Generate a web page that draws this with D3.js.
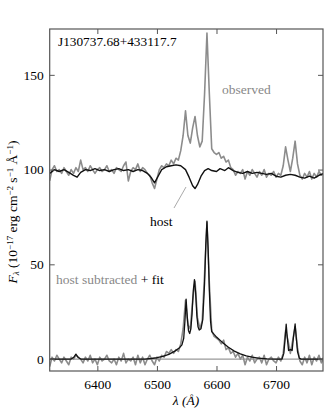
<!DOCTYPE html>
<html lang="en">
<head>
<meta charset="UTF-8">
<title>J130737.68+433117.7 spectrum</title>
<script src="https://d3js.org/d3.v7.min.js"></script>
<style>
    body { margin: 0; background: #fff; }
</style>
</head>
<body>
<div id="chart"></div>
<script>
// wavelength grid of the two noisy spectra (Angstrom), step 4
const waveStart = 6320, waveStep = 4;

// observed spectrum, 6320 .. 6780
const observedFlux = [
    94, 100, 102, 99, 100, 98, 101, 99, 97, 100,
    98, 101, 99, 105, 100, 101, 99, 102, 100, 98,
    100, 101, 99, 100, 102, 99, 100, 98, 101, 100,
    99, 102, 104, 94, 99, 101, 100, 103, 99, 101,
    100, 98, 97, 93, 90, 95, 100, 102, 101, 103,
    102, 105, 103, 106, 105, 110, 118, 131, 118, 114,
    122, 128, 118, 112, 115, 140, 172, 140, 111, 109,
    108, 109, 106, 107, 104, 105, 101, 100, 97, 99,
    98, 100, 95, 99, 97, 100, 98, 96, 99, 97,
    100, 96, 98, 97, 99, 96, 98, 97, 102, 112,
    105, 99, 106, 115, 103, 97, 95, 98, 96, 99,
    95, 98, 96, 99, 97, 98
];

// host subtracted spectrum, same grid
const residualFlux = [
    -4, 1, -1, 2, 0, -2, 1, -1, -3, 1,
    0, 2, 1, 0, -2, 1, -1, 2, -2, 0,
    -3, 1, -1, 0, 2, -1, -2, 0, -3, 1,
    -1, 3, -2, 0, -1, 1, -3, 2, -2, 1,
    -3, 0, 2, -1, -3, 1, -1, 2, 1, 4,
    3, 5, 3, 5, 4, 8, 16, 31, 18, 16,
    31, 41, 22, 16, 20, 45, 72, 40, 15, 12,
    11, 10, 8, 10, 5, 6, 3, 4, 1, 3,
    0, 2, -3, 1, -1, 2, -2, 0, 1, -2,
    2, -3, 0, 1, -1, -2, 1, -1, 3, 15,
    10, 3, 10, 17, 6, -1, -3, 1, -2, 2,
    -3, 1, -1, 2, -2, 1
];

// host galaxy model [wavelength, flux]
const hostModel = [
    [6320, 98], [6328, 100], [6336, 99], [6344, 100], [6352, 98.5], [6360, 97],
    [6366, 96], [6372, 98.5], [6380, 100], [6388, 99.5], [6396, 100.5], [6404, 99.5],
    [6412, 100], [6420, 99], [6428, 100], [6436, 100.5], [6444, 99.5], [6452, 100],
    [6460, 99], [6468, 100], [6476, 99.5], [6484, 98], [6490, 96], [6496, 93],
    [6502, 96.5], [6508, 100], [6516, 101.5], [6524, 102], [6532, 102.5], [6540, 102],
    [6548, 100], [6554, 96], [6560, 91.5], [6564, 90], [6568, 92], [6574, 96.5],
    [6580, 99.5], [6586, 100.5], [6592, 99.5], [6600, 99], [6606, 100.5], [6614, 99.5],
    [6620, 101], [6628, 99.5], [6636, 98.5], [6644, 98], [6652, 99], [6660, 98],
    [6668, 98.5], [6676, 98], [6684, 97.5], [6692, 98], [6700, 96.5], [6708, 96],
    [6716, 97], [6724, 97.5], [6732, 97], [6740, 96], [6748, 95.5], [6756, 96.5],
    [6764, 95.5], [6772, 97], [6780, 98]
];

// line fit to the host subtracted spectrum [wavelength, flux]
const lineFit = [
    [6320, 0], [6356, 0], [6360, 0.8], [6364, 2.6], [6368, 0.8], [6372, 0],
    [6480, 0], [6490, 0.3], [6500, 0.7], [6510, 1.4], [6520, 2.5], [6530, 4.2],
    [6538, 6], [6542, 7.5], [6545, 11], [6547, 20], [6549, 31.6], [6551, 22],
    [6553, 15], [6555, 13.5], [6557, 16], [6559, 24], [6561, 36], [6563, 41.9],
    [6565, 35], [6567, 23], [6569, 17], [6571, 15.3], [6574, 16], [6577, 21],
    [6580, 40], [6582, 60], [6584, 72.8], [6586, 58], [6588, 36], [6590, 20],
    [6592, 14.5], [6596, 13], [6600, 11.6], [6610, 8.8], [6620, 6.2], [6630, 4.2],
    [6640, 2.7], [6650, 1.7], [6660, 1.0], [6670, 0.5], [6685, 0.1], [6700, 0],
    [6710, 0], [6713, 3], [6715, 10], [6717, 18.4], [6719, 11], [6721, 4.5],
    [6724, 5], [6727, 4.5], [6729, 11], [6732, 18.5], [6734, 11], [6736, 4],
    [6739, 0.5], [6742, 0], [6780, 0]
];

const xTicks = [6400, 6500, 6600, 6700];
const yTicks = [0, 50, 100, 150];

const width = 329, height = 413;
const plotLeft = 49.7, plotRight = 323, plotTop = 29, plotBottom = 371;
const serif = "'Liberation Serif', 'DejaVu Serif', serif";

const svg = d3.select("#chart").append("svg")
    .attr("width", width)
    .attr("height", height)
    .attr("font-family", serif);

const x = d3.scaleLinear().domain([6320, 6778.8]).range([plotLeft, plotRight]);
const y = d3.scaleLinear().domain([-6.3, 174.2]).range([plotBottom, plotTop]);

svg.append("clipPath").attr("id", "plot")
    .append("rect")
    .attr("x", plotLeft).attr("y", plotTop)
    .attr("width", plotRight - plotLeft).attr("height", plotBottom - plotTop);

const gridSeries = flux => flux.map((f, i) => [waveStart + i * waveStep, f]);

const line = d3.line()
    .x(d => x(d[0]))
    .y(d => y(d[1]));

const plot = svg.append("g").attr("clip-path", "url(#plot)");

// zero line
plot.append("line")
    .attr("x1", plotLeft).attr("x2", plotRight)
    .attr("y1", y(0)).attr("y2", y(0))
    .attr("stroke", "#999").attr("stroke-width", 1.3);

plot.append("path")
    .datum(gridSeries(observedFlux))
    .attr("d", line)
    .attr("fill", "none")
    .attr("stroke", "#8c8c8c")
    .attr("stroke-width", 1.6)
    .attr("stroke-linejoin", "round");

plot.append("path")
    .datum(hostModel)
    .attr("d", line)
    .attr("fill", "none")
    .attr("stroke", "#111")
    .attr("stroke-width", 1.4)
    .attr("stroke-linejoin", "round");

plot.append("path")
    .datum(gridSeries(residualFlux))
    .attr("d", line)
    .attr("fill", "none")
    .attr("stroke", "#8c8c8c")
    .attr("stroke-width", 1.6)
    .attr("stroke-linejoin", "round");

plot.append("path")
    .datum(lineFit)
    .attr("d", line)
    .attr("fill", "none")
    .attr("stroke", "#111")
    .attr("stroke-width", 1.3)
    .attr("stroke-linejoin", "round");

// axes, ticks pointing inward on all four sides
const frameColor = "#555";

function styleAxis(g) {
    g.attr("font-family", serif).attr("font-size", 13.5);
    g.select(".domain").remove();
    g.selectAll(".tick line").attr("stroke", frameColor).attr("stroke-width", 1);
    g.selectAll(".tick text").attr("fill", "#000");
}

svg.append("g")
    .attr("transform", `translate(0,${plotBottom})`)
    .call(d3.axisBottom(x).tickValues(xTicks).tickSize(-5).tickPadding(8).tickFormat(d3.format("d")))
    .call(styleAxis);

svg.append("g")
    .attr("transform", `translate(0,${plotTop})`)
    .call(d3.axisTop(x).tickValues(xTicks).tickSize(-5).tickFormat(""))
    .call(styleAxis);

svg.append("g")
    .attr("transform", `translate(${plotLeft},0)`)
    .call(d3.axisLeft(y).tickValues(yTicks).tickSize(-5).tickPadding(6).tickFormat(d3.format("d")))
    .call(styleAxis);

svg.append("g")
    .attr("transform", `translate(${plotRight},0)`)
    .call(d3.axisRight(y).tickValues(yTicks).tickSize(-5).tickFormat(""))
    .call(styleAxis);

svg.append("rect")
    .attr("x", plotLeft).attr("y", plotTop)
    .attr("width", plotRight - plotLeft).attr("height", plotBottom - plotTop)
    .attr("fill", "none")
    .attr("stroke", frameColor)
    .attr("stroke-width", 1.2);

// labels inside the plot
svg.append("text")
    .attr("x", 58).attr("y", 46)
    .attr("font-size", 13.3)
    .text("J130737.68+433117.7");

svg.append("text")
    .attr("x", 222).attr("y", 94)
    .attr("fill", "#888")
    .attr("font-size", 13.5)
    .text("observed");

svg.append("text")
    .attr("x", 150).attr("y", 226)
    .attr("font-size", 13.5)
    .text("host");

svg.append("line")
    .attr("x1", 174).attr("y1", 208)
    .attr("x2", 186).attr("y2", 187)
    .attr("stroke", "#aaa").attr("stroke-width", 1);

const legend = svg.append("text")
    .attr("x", 56).attr("y", 284)
    .attr("font-size", 13.5);
legend.append("tspan").attr("fill", "#888").text("host subtracted");
legend.append("tspan").attr("fill", "#000").text(" + fit");

// axis titles
svg.append("text")
    .attr("x", 186).attr("y", 405)
    .attr("text-anchor", "middle")
    .attr("font-size", 13.5)
    .attr("font-style", "italic")
    .text("λ (Å)");

const yTitle = svg.append("text")
    .attr("transform", "translate(17,212) rotate(-90)")
    .attr("text-anchor", "middle")
    .attr("font-size", 13.5);
yTitle.append("tspan").attr("font-style", "italic").text("F");
yTitle.append("tspan").attr("baseline-shift", "-25%").attr("font-size", 9).attr("font-style", "italic").text("λ");
yTitle.append("tspan").text(" (10");
yTitle.append("tspan").attr("baseline-shift", "40%").attr("font-size", 9).text("−17");
yTitle.append("tspan").text(" erg cm");
yTitle.append("tspan").attr("baseline-shift", "40%").attr("font-size", 9).text("−2");
yTitle.append("tspan").text(" s");
yTitle.append("tspan").attr("baseline-shift", "40%").attr("font-size", 9).text("−1");
yTitle.append("tspan").text(" Å");
yTitle.append("tspan").attr("baseline-shift", "40%").attr("font-size", 9).text("−1");
yTitle.append("tspan").text(")");
</script>
</body>
</html>
